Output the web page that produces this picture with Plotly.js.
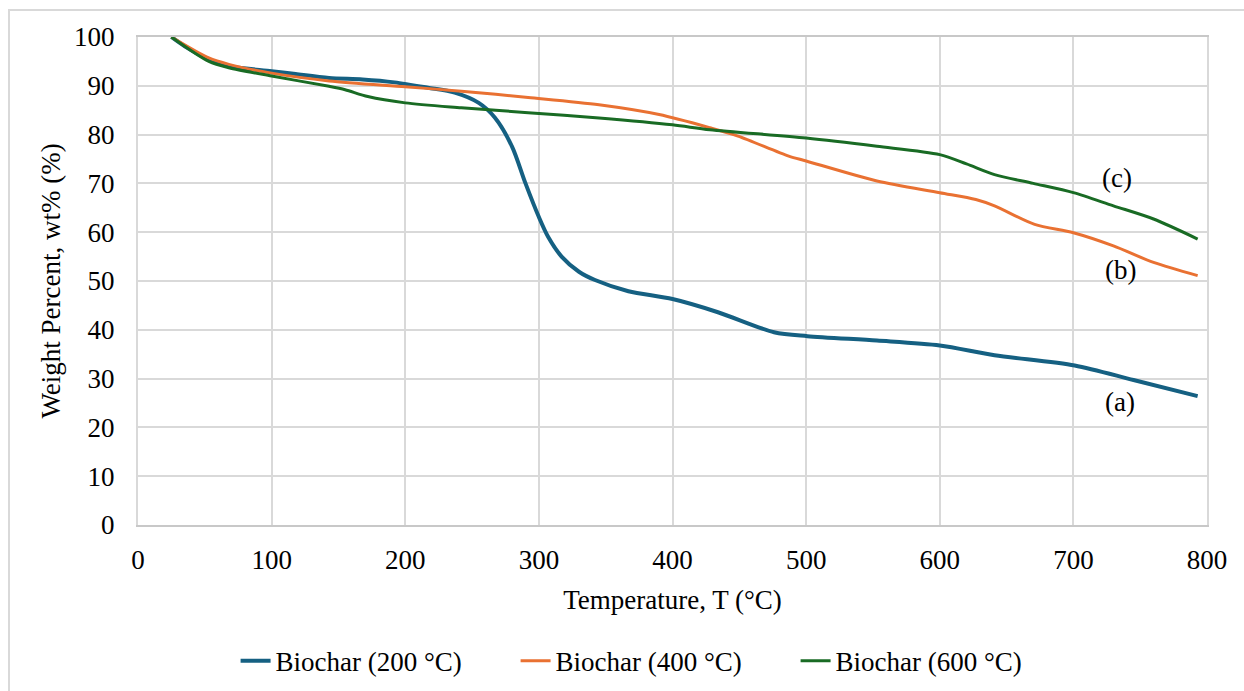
<!DOCTYPE html>
<html>
<head>
<meta charset="utf-8">
<script src="https://cdn.plot.ly/plotly-3.0.1.min.js"></script>
<style>
  html, body { margin: 0; padding: 0; background: #ffffff; }
  #frame { position: absolute; left: 8px; top: 9px; width: 1300px; height: 800px;
           border-left: 2px solid #d9d9d9; border-top: 2px solid #d9d9d9; }
  #chart { position: absolute; left: 0; top: 0; width: 1244px; height: 691px; }
</style>
</head>
<body>
<div id="frame"></div>
<div id="chart"></div>
<script>
// Biochar (200 °C)
const t200 = [25, 35, 53, 68, 100, 118, 143, 168, 192, 217, 237, 255, 267, 280, 290, 300, 307, 317, 330, 342, 367, 400, 434, 476, 501, 553, 600, 641, 701, 745, 793];
const w200 = [100, 98.1, 95.4, 94.0, 93.0, 92.4, 91.6, 91.3, 90.7, 89.6, 88.6, 86.5, 83.5, 77.5, 70.0, 63.1, 59.0, 55.0, 51.9, 50.2, 47.9, 46.3, 43.6, 39.5, 38.7, 37.8, 36.8, 34.8, 32.7, 29.7, 26.4];
// Biochar (400 °C)
const t400 = [25, 53, 68, 100, 143, 200, 242, 292, 345, 390, 428, 449, 487, 500, 553, 600, 627, 641, 671, 700, 730, 760, 793];
const w400 = [100, 95.7, 94.4, 92.6, 91.0, 89.8, 88.9, 87.6, 86.1, 84.1, 81.4, 79.7, 75.6, 74.6, 70.5, 68.1, 66.7, 65.4, 61.6, 59.9, 57.2, 53.8, 51.1];
// Biochar (600 °C)
const t600 = [25, 53, 68, 100, 143, 155, 172, 200, 242, 292, 345, 400, 428, 500, 553, 600, 620, 641, 670, 700, 730, 760, 793];
const w600 = [100, 95.0, 93.7, 92.0, 89.9, 89.2, 87.8, 86.5, 85.5, 84.5, 83.4, 82.0, 81.0, 79.3, 77.6, 75.9, 74.0, 71.8, 70.0, 68.1, 65.4, 62.7, 58.6];

const seriesNames = ["Biochar (200 °C)", "Biochar (400 °C)", "Biochar (600 °C)"];
const curveLabels = ["(a)", "(b)", "(c)"];
const labelT = [735, 735, 733];
const labelW = [25.2, 52.3, 71.1];

const FONT = "Liberation Serif";
const F = (s) => ({family: FONT, size: s, color: "#000000"});

const traces = [
  {x: t200, y: w200, name: seriesNames[0], mode: "lines",
   line: {color: "#156082", width: 4, shape: "spline", smoothing: 0.8}},
  {x: t400, y: w400, name: seriesNames[1], mode: "lines",
   line: {color: "#E97132", width: 3, shape: "spline", smoothing: 0.8}},
  {x: t600, y: w600, name: seriesNames[2], mode: "lines",
   line: {color: "#196B24", width: 3, shape: "spline", smoothing: 0.8}}
];

const annotations = curveLabels.map((txt, i) => ({
  x: labelT[i], y: labelW[i], xref: "x", yref: "y", text: txt,
  showarrow: false, font: F(27)
}));

const layout = {
  width: 1244, height: 691,
  margin: {l: 138, r: 37, t: 37, b: 166},
  paper_bgcolor: "rgba(0,0,0,0)",
  plot_bgcolor: "#ffffff",
  font: F(27),
  showlegend: true,
  legend: {orientation: "h", xref: "container", x: 0.527, xanchor: "center",
           yref: "container", y: 0.043, yanchor: "middle",
           font: F(27), entrywidth: 235, entrywidthmode: "pixels",
           bgcolor: "rgba(0,0,0,0)"},
  xaxis: {
    range: [0, 800], dtick: 100, tick0: 0,
    showgrid: true, gridcolor: "#d9d9d9", gridwidth: 2,
    showline: true, linecolor: "#c8c8c8", linewidth: 2, mirror: true,
    zeroline: false, ticks: "outside", ticklen: 10, tickcolor: "rgba(0,0,0,0)",
    tickfont: F(27),
    title: {text: "Temperature, T (°C)", font: F(27), standoff: 16}
  },
  yaxis: {
    range: [0, 100], dtick: 10, tick0: 0,
    showgrid: true, gridcolor: "#d9d9d9", gridwidth: 2,
    showline: true, linecolor: "#d9d9d9", linewidth: 2, mirror: true,
    zeroline: false, ticks: "outside", ticklen: 16, tickcolor: "rgba(0,0,0,0)",
    tickfont: F(27),
    title: {text: "Weight Percent, wt% (%)", font: F(27), standoff: 6}
  },
  annotations: annotations
};

Plotly.newPlot("chart", traces, layout, {displayModeBar: false, staticPlot: true});
</script>
</body>
</html>
